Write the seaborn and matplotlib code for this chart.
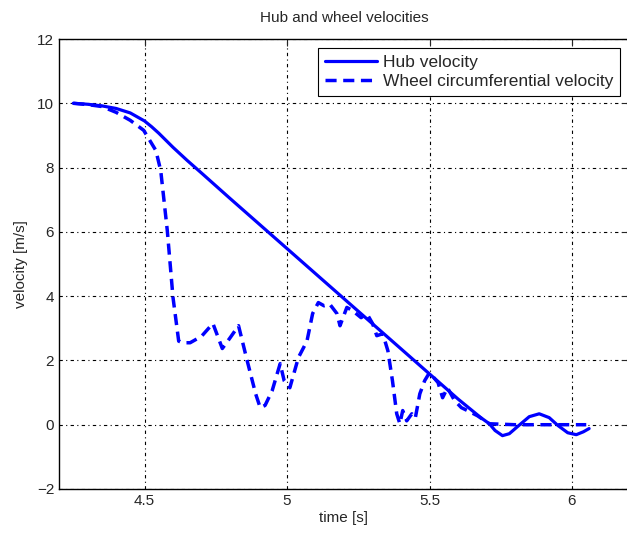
import matplotlib
matplotlib.use("Agg")
import matplotlib.pyplot as plt
import seaborn as sns
import pandas as pd

sns.set_style("white")
plt.rcParams['font.family'] = ['Liberation Sans', 'DejaVu Sans']

# Hub velocity
hub_t = [4.25, 4.30, 4.35, 4.40, 4.45, 4.50, 4.525, 4.55, 4.575, 4.60, 4.65, 4.70,
         4.80, 4.90, 5.00, 5.10, 5.20, 5.30, 5.40, 5.50, 5.60, 5.68, 5.71, 5.73,
         5.756, 5.78, 5.81, 5.85, 5.885, 5.92, 5.95, 5.985, 6.015, 6.04, 6.06]
hub_v = [10.0, 9.97, 9.92, 9.84, 9.70, 9.45, 9.27, 9.07, 8.85, 8.63, 8.22, 7.83,
         7.04, 6.26, 5.48, 4.70, 3.92, 3.14, 2.36, 1.58, 0.80, 0.22, 0.03, -0.18,
         -0.34, -0.28, -0.05, 0.25, 0.34, 0.22, -0.02, -0.25, -0.31, -0.22, -0.12]

# Wheel circumferential velocity
wheel_t = [4.25, 4.30, 4.35, 4.40, 4.45, 4.497, 4.54, 4.557, 4.58, 4.60, 4.62, 4.633,
           4.66, 4.70, 4.74, 4.773, 4.80, 4.83, 4.86, 4.89, 4.906, 4.923, 4.948, 4.976,
           4.99, 5.01, 5.04, 5.07, 5.09, 5.11, 5.13, 5.15, 5.175, 5.186, 5.21, 5.23,
           5.26, 5.28, 5.30, 5.315, 5.336, 5.354, 5.37, 5.385, 5.396, 5.406, 5.42, 5.438,
           5.45, 5.466, 5.483, 5.50, 5.53, 5.546, 5.563, 5.588, 5.612, 5.633, 5.668, 5.71,
           5.80, 5.90, 6.00, 6.05]
wheel_v = [10.0, 9.96, 9.90, 9.72, 9.47, 9.16, 8.53, 7.90, 6.04, 3.96, 2.60, 2.55,
           2.55, 2.75, 3.15, 2.37, 2.70, 3.08, 2.00, 0.96, 0.53, 0.60, 1.06, 1.90,
           1.37, 1.15, 2.09, 2.60, 3.46, 3.80, 3.70, 3.75, 3.46, 3.08, 3.65, 3.55,
           3.33, 3.46, 3.15, 2.77, 2.83, 2.30, 1.37, 0.34, 0.03, 0.44, 0.12, 0.34,
           0.20, 0.96, 1.37, 1.62, 1.31, 0.84, 1.15, 0.75, 0.53, 0.44, 0.28, 0.03,
           0.0, 0.0, 0.0, 0.0]

hub_df = pd.DataFrame({'time': hub_t, 'velocity': hub_v})
wheel_df = pd.DataFrame({'time': wheel_t, 'velocity': wheel_v})

fig = plt.figure(figsize=(6.27, 5.33), dpi=100)
ax = fig.add_axes([59 / 627, 44 / 533, 570 / 627, 450 / 533])

sns.lineplot(data=hub_df, x='time', y='velocity', ax=ax, color='#0000ff',
             lw=2.3, label='Hub velocity', sort=False)
sns.lineplot(data=wheel_df, x='time', y='velocity', ax=ax, color='#0000ff',
             lw=2.5, label='Wheel circumferential velocity', sort=False)
ax.lines[1].set_dashes((3.2, 1.9))

ax.set_xlim(4.2, 6.2)
ax.set_ylim(-2, 12)
ax.set_xticks([4.5, 5, 5.5, 6])
ax.set_xticklabels(['4.5', '5', '5.5', '6'])
ax.set_yticks(range(-2, 13, 2))
ax.grid(True, color='black', lw=0.8, linestyle=(0, (3, 3, 1, 3)))
ax.tick_params(direction='in', top=True, right=True, length=5, labelsize=11, width=0.8)
for s in ax.spines.values():
    s.set_color('black')
    s.set_linewidth(1.0)

ax.set_title('Hub and wheel velocities', fontsize=11, pad=12)
ax.set_xlabel('time [s]', fontsize=11, labelpad=2)
ax.set_ylabel('velocity [m/s]', fontsize=11, labelpad=6)

leg = ax.legend(loc='upper right', bbox_to_anchor=(0.984, 0.98), fontsize=12.5,
                frameon=True, fancybox=False, framealpha=1, edgecolor='black',
                handlelength=3.0, borderpad=0.4, labelspacing=0.2, handletextpad=0.3,
                borderaxespad=0)
leg.get_frame().set_linewidth(0.8)
leg.get_lines()[1].set_dashes((3.2, 1.9))

fig.savefig('out.png', dpi=100)
